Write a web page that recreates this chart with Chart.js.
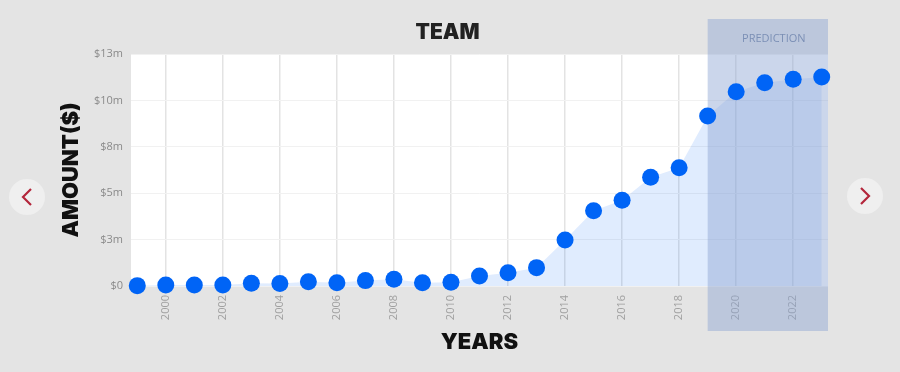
<!DOCTYPE html>
<html>
<head>
<meta charset="utf-8">
<script src="https://cdn.jsdelivr.net/npm/chart.js@4.4.1/dist/chart.umd.min.js"></script>
<style>
    html, body { margin: 0; padding: 0; }
    body { width: 900px; height: 372px; background: #e4e4e4; overflow: hidden; position: relative; font-family: "Open Sans", sans-serif; }
    .chart-wrap { position: absolute; left: 55px; top: 0; width: 785px; height: 372px; }
    .nav { position: absolute; width: 36px; height: 36px; border-radius: 50%; background: #efefef; top: 179px; }
    .nav svg { position: absolute; left: 0; top: 0; }
    .nav.prev { left: 9px; }
    .nav.next { left: 847px; top: 178px; }
</style>
</head>
<body>
<div class="nav prev"><svg width="36" height="36"><polyline points="22,10 14,18 22,26" fill="none" stroke="#b3263b" stroke-width="2.2"/></svg></div>
<div class="chart-wrap"><canvas id="teamChart"></canvas></div>
<div class="nav next"><svg width="36" height="36"><polyline points="14,10 22,18 14,26" fill="none" stroke="#b3263b" stroke-width="2.2"/></svg></div>
<script>
// data (amounts in millions of dollars)
const years = [1999, 2000, 2001, 2002, 2003, 2004, 2005, 2006, 2007, 2008, 2009, 2010, 2011,
               2012, 2013, 2014, 2015, 2016, 2017, 2018, 2019, 2020, 2021, 2022, 2023];
const amounts = [0.02, 0.05, 0.05, 0.05, 0.15, 0.13, 0.23, 0.18, 0.29, 0.36, 0.18, 0.20, 0.54,
                 0.72, 0.99, 2.48, 4.06, 4.62, 5.86, 6.37, 9.16, 10.47, 10.95, 11.14, 11.26];
const yearTicks = [2000, 2002, 2004, 2006, 2008, 2010, 2012, 2014, 2016, 2018, 2020, 2022];
const amountTicks = [0, 2.5, 5, 7.5, 10, 12.5];
const amountTickLabels = ['$0', '$3m', '$5m', '$8m', '$10m', '$13m'];
const predictionStart = 2019;

// white plot background
const plotBackground = {
    id: 'plotBackground',
    beforeDraw(chart) {
        const { ctx, chartArea: a } = chart;
        ctx.save();
        ctx.fillStyle = '#ffffff';
        ctx.fillRect(a.left, a.top, a.right - a.left, a.bottom - a.top);
        ctx.restore();
    }
};

// shaded prediction band, drawn over the fill but under the points
const predictionBand = {
    id: 'predictionBand',
    beforeDatasetDraw(chart) {
        const { ctx, chartArea: a, scales } = chart;
        const left = scales.x.getPixelForValue(predictionStart);
        const top = a.top - 35;
        const bottom = a.bottom + 45;
        ctx.save();
        ctx.fillStyle = 'rgba(140, 165, 210, 0.45)';
        ctx.fillRect(left, top, a.right - left, bottom - top);
        ctx.fillStyle = '#7b8fb5';
        ctx.font = '11px "Open Sans"';
        ctx.textAlign = 'center';
        ctx.textBaseline = 'middle';
        ctx.fillText('PREDICTION', (left + a.right) / 2 + 6, top + 20);
        ctx.restore();
    }
};

const ctx = document.getElementById('teamChart').getContext('2d');
new Chart(ctx, {
    type: 'line',
    data: {
        datasets: [{
            label: 'Team',
            data: years.map((y, i) => ({ x: y, y: amounts[i] })),
            fill: 'origin',
            backgroundColor: 'rgba(0, 100, 246, 0.12)',
            borderColor: 'transparent',
            borderWidth: 0,
            tension: 0,
            pointRadius: 8.5,
            pointBorderWidth: 0,
            pointBackgroundColor: '#0064f6',
            pointBorderColor: '#0064f6',
            clip: false
        }]
    },
    options: {
        responsive: true,
        maintainAspectRatio: false,
        animation: false,
        layout: { padding: 0 },
        plugins: {
            legend: { display: false },
            tooltip: { enabled: false },
            title: {
                display: true,
                text: 'TEAM',
                color: '#222222',
                font: { family: 'Inter', size: 21, weight: '900' },
                padding: { top: 20, bottom: 8.8 }
            }
        },
        scales: {
            x: {
                type: 'linear',
                min: 1998.78,
                max: 2023.22,
                afterBuildTicks: s => { s.ticks = yearTicks.map(v => ({ value: v })); },
                afterFit: s => { s.height = 86; },
                border: { display: false },
                grid: { color: '#e3e3e3', lineWidth: 1.5, drawTicks: false },
                ticks: {
                    autoSkip: false,
                    minRotation: 90,
                    maxRotation: 90,
                    padding: 9,
                    color: '#a0a0a0',
                    font: { family: 'Open Sans', size: 11 },
                    callback: v => String(v)
                },
                title: {
                    display: true,
                    text: 'YEARS',
                    color: '#111111',
                    font: { family: 'Inter', size: 22, weight: '900' },
                    padding: { top: 0, bottom: 16 }
                }
            },
            y: {
                min: 0,
                max: 12.5,
                afterBuildTicks: s => { s.ticks = amountTicks.map(v => ({ value: v })); },
                afterFit: s => { s.width = 76; },
                border: { display: false },
                grid: { color: '#f1f1f1', drawTicks: false },
                ticks: {
                    padding: 8,
                    color: '#8a8a8a',
                    font: { family: 'Open Sans', size: 11 },
                    callback: (v, i) => amountTickLabels[i]
                },
                title: {
                    display: true,
                    text: 'AMOUNT($)',
                    color: '#111111',
                    font: { family: 'Inter', size: 22, weight: '900' },
                    padding: { top: 3, bottom: 0 }
                }
            },
            spacer: {
                position: 'right',
                afterFit: s => { s.width = 12; },
                border: { display: false },
                grid: { display: false },
                ticks: { display: false }
            }
        }
    },
    plugins: [plotBackground, predictionBand]
});
</script>
</body>
</html>
